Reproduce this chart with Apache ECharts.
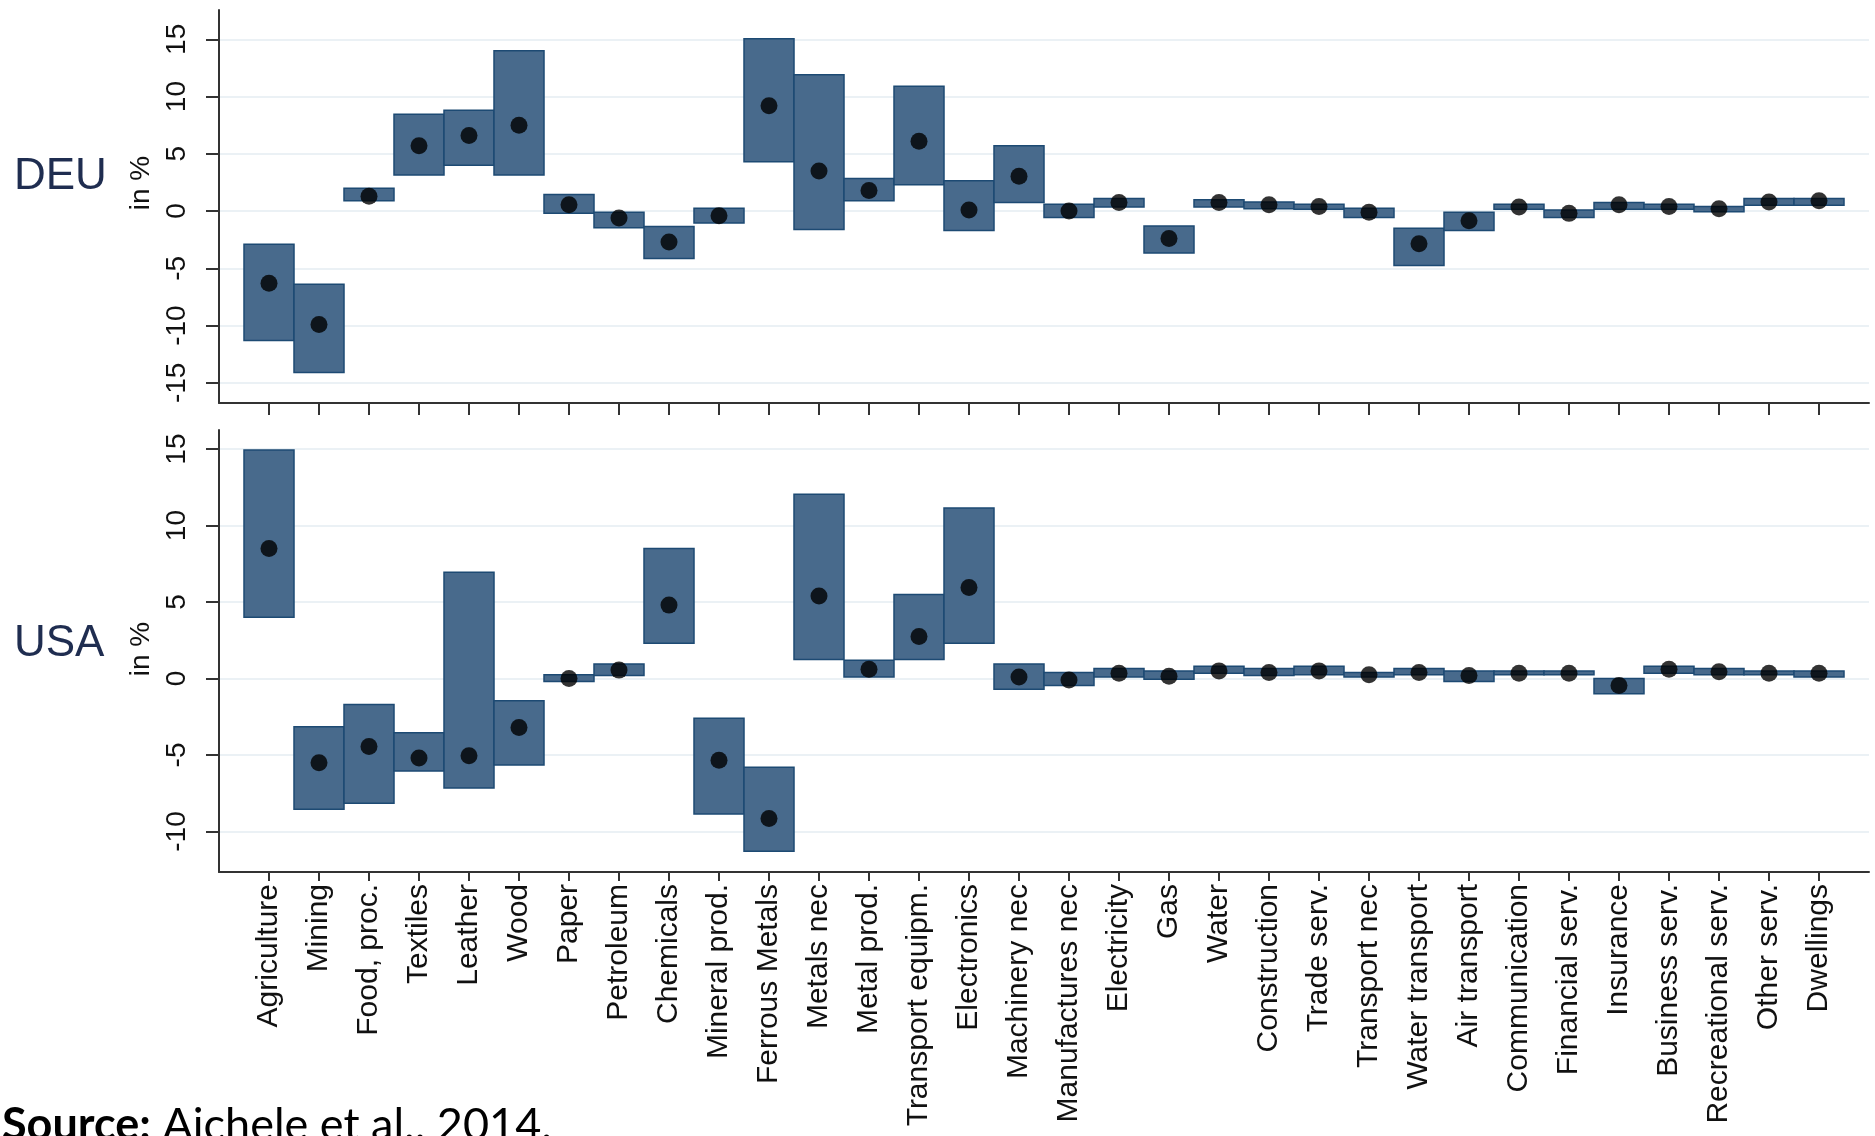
<!DOCTYPE html>
<html>
<head>
<meta charset="utf-8">
<script src="https://cdn.jsdelivr.net/npm/echarts@6/dist/echarts.min.js"></script>
<style>
html,body{margin:0;padding:0;background:#fff;}
#main{width:1875px;height:1136px;}
</style>
</head>
<body>
<div id="main"></div>
<script>
// sectors along the x axis
var categories = ['Agriculture','Mining','Food, proc.','Textiles','Leather','Wood','Paper','Petroleum','Chemicals','Mineral prod.',
  'Ferrous Metals','Metals nec','Metal prod.','Transport equipm.','Electronics','Machinery nec','Manufactures nec','Electricity','Gas','Water',
  'Construction','Trade serv.','Transport nec','Water transport','Air transport','Communication','Financial serv.','Insurance','Business serv.',
  'Recreational serv.','Other serv.','Dwellings'];

// DEU (top panel): box low / box high / point, in %
var deuLow   = [-11.3,-14.1,0.9,3.15,4.0,3.15,-0.2,-1.45,-4.15,-1.05, 4.3,-1.6,0.9,2.3,-1.7,0.75,-0.55,0.35,-3.65,0.35, 0.2,0.15,-0.55,-4.75,-1.7,0.15,-0.55,0.15,0.15,-0.05,0.5,0.5];
var deuHigh  = [-2.9,-6.4,2.0,8.45,8.8,14.0,1.45,-0.1,-1.35,0.25, 15.05,11.9,2.85,10.9,2.65,5.7,0.6,1.1,-1.3,1.0, 0.8,0.6,0.25,-1.5,-0.1,0.6,0.1,0.75,0.6,0.4,1.1,1.1];
var deuPoint = [-6.3,-9.9,1.3,5.7,6.6,7.5,0.55,-0.6,-2.7,-0.4, 9.2,3.5,1.8,6.1,0.1,3.05,0.0,0.75,-2.4,0.75, 0.55,0.4,-0.1,-2.85,-0.85,0.35,-0.2,0.55,0.4,0.2,0.8,0.9];

// USA (bottom panel)
var usaLow   = [4.0,-8.55,-8.15,-6.05,-7.15,-5.65,-0.2,0.2,2.3,-8.85, -11.3,1.25,0.1,1.25,2.3,-0.7,-0.45,0.1,-0.05,0.35, 0.2,0.25,0.1,0.25,-0.2,0.25,0.25,-1.0,0.35,0.25,0.25,0.1];
var usaHigh  = [14.95,-3.15,-1.7,-3.55,6.95,-1.45,0.25,0.95,8.5,-2.6, -5.8,12.05,1.2,5.5,11.15,0.95,0.4,0.65,0.5,0.8, 0.65,0.8,0.4,0.65,0.5,0.5,0.5,0.0,0.8,0.65,0.5,0.5];
var usaPoint = [8.5,-5.5,-4.45,-5.2,-5.05,-3.2,0.0,0.55,4.8,-5.35, -9.15,5.4,0.6,2.75,5.95,0.1,-0.1,0.35,0.15,0.5, 0.4,0.5,0.25,0.4,0.2,0.35,0.35,-0.45,0.6,0.45,0.35,0.35];

var yTicksTop = [-15,-10,-5,0,5,10,15];
var yTicksBottom = [-10,-5,0,5,10,15];

var font = 'Liberation Sans, Arial, sans-serif';
var catIdx = categories.map(function(c, i){ return i; });

function boxData(lo, hi){
  return lo.map(function(v, i){ return [i, v, hi[i]]; });
}
function pointData(p){
  return p.map(function(v, i){ return [i, v]; });
}
function renderBox(params, api){
  var x = api.value(0);
  var p1 = api.coord([x - 0.5, api.value(2)]);
  var p2 = api.coord([x + 0.5, api.value(1)]);
  return {
    type: 'rect',
    shape: {x: p1[0], y: p1[1], width: p2[0] - p1[0], height: p2[1] - p1[1]},
    style: {fill: '#486a8c', stroke: '#1d4a73', lineWidth: 1.5}
  };
}
function xAxisCfg(idx, showLabel){
  return {
    gridIndex: idx, type: 'value', min: -1, max: 32,
    axisLine: {show: true, onZero: false, lineStyle: {color: '#333', width: 2}},
    axisTick: {show: true, length: idx === 0 ? 12 : 9, customValues: catIdx, lineStyle: {color: '#333', width: 2}},
    axisLabel: {show: showLabel, customValues: catIdx, rotate: 90, margin: 12,
      fontSize: 30, fontFamily: font, color: '#111',
      formatter: function(v){ return categories[v] || ''; }},
    splitLine: {show: false}
  };
}
function yAxisCfg(idx, mn, mx, ticks){
  return {
    gridIndex: idx, type: 'value', min: mn, max: mx,
    axisLine: {show: true, onZero: false, lineStyle: {color: '#333', width: 2}},
    axisTick: {show: true, length: 13, customValues: ticks, lineStyle: {color: '#333', width: 2}},
    axisLabel: {customValues: ticks, rotate: 90, margin: 28, fontSize: 28, fontFamily: font, color: '#111'},
    splitLine: {show: true, lineStyle: {color: '#ebf1f5', width: 2}}
  };
}

var chart = echarts.init(document.getElementById('main'));
var option = {
  backgroundColor: '#fff',
  animation: false,
  grid: [
    {left: 219, top: 10, width: 1650, height: 393},
    {left: 219, top: 430, width: 1650, height: 442}
  ],
  xAxis: [xAxisCfg(0, false), xAxisCfg(1, true)],
  yAxis: [yAxisCfg(0, -16.76, 17.56, yTicksTop), yAxisCfg(1, -12.65, 16.25, yTicksBottom)],
  graphic: [
    {type: 'text', x: 14, y: 177, style: {text: 'DEU', font: '44px Liberation Sans', fill: '#1f2d50', verticalAlign: 'middle'}},
    {type: 'text', x: 14, y: 644, style: {text: 'USA', font: '44px Liberation Sans', fill: '#1f2d50', verticalAlign: 'middle'}},
    {type: 'text', x: 141, y: 183, rotation: Math.PI / 2, style: {text: 'in %', font: '28px Liberation Sans', fill: '#111', align: 'center', verticalAlign: 'middle'}},
    {type: 'text', x: 141, y: 649, rotation: Math.PI / 2, style: {text: 'in %', font: '28px Liberation Sans', fill: '#111', align: 'center', verticalAlign: 'middle'}},
    {type: 'text', x: 2, y: 1125, style: {
      text: '{b|Source:} Aichele et al.. 2014.',
      fontFamily: 'Lato', fontSize: 45, fill: '#000', verticalAlign: 'middle',
      rich: {b: {fontFamily: 'Lato', fontSize: 45, fontWeight: 'bold', fill: '#000'}}
    }}
  ],
  series: [
    {type: 'custom', xAxisIndex: 0, yAxisIndex: 0, renderItem: renderBox, encode: {x: 0, y: [1, 2]}, data: boxData(deuLow, deuHigh), z: 2},
    {type: 'scatter', xAxisIndex: 0, yAxisIndex: 0, symbol: 'circle', symbolSize: 17, itemStyle: {color: '#000'}, data: pointData(deuPoint), z: 3},
    {type: 'custom', xAxisIndex: 1, yAxisIndex: 1, renderItem: renderBox, encode: {x: 0, y: [1, 2]}, data: boxData(usaLow, usaHigh), z: 2},
    {type: 'scatter', xAxisIndex: 1, yAxisIndex: 1, symbol: 'circle', symbolSize: 17, itemStyle: {color: '#000'}, data: pointData(usaPoint), z: 3}
  ]
};
chart.setOption(option);
</script>
</body>
</html>
